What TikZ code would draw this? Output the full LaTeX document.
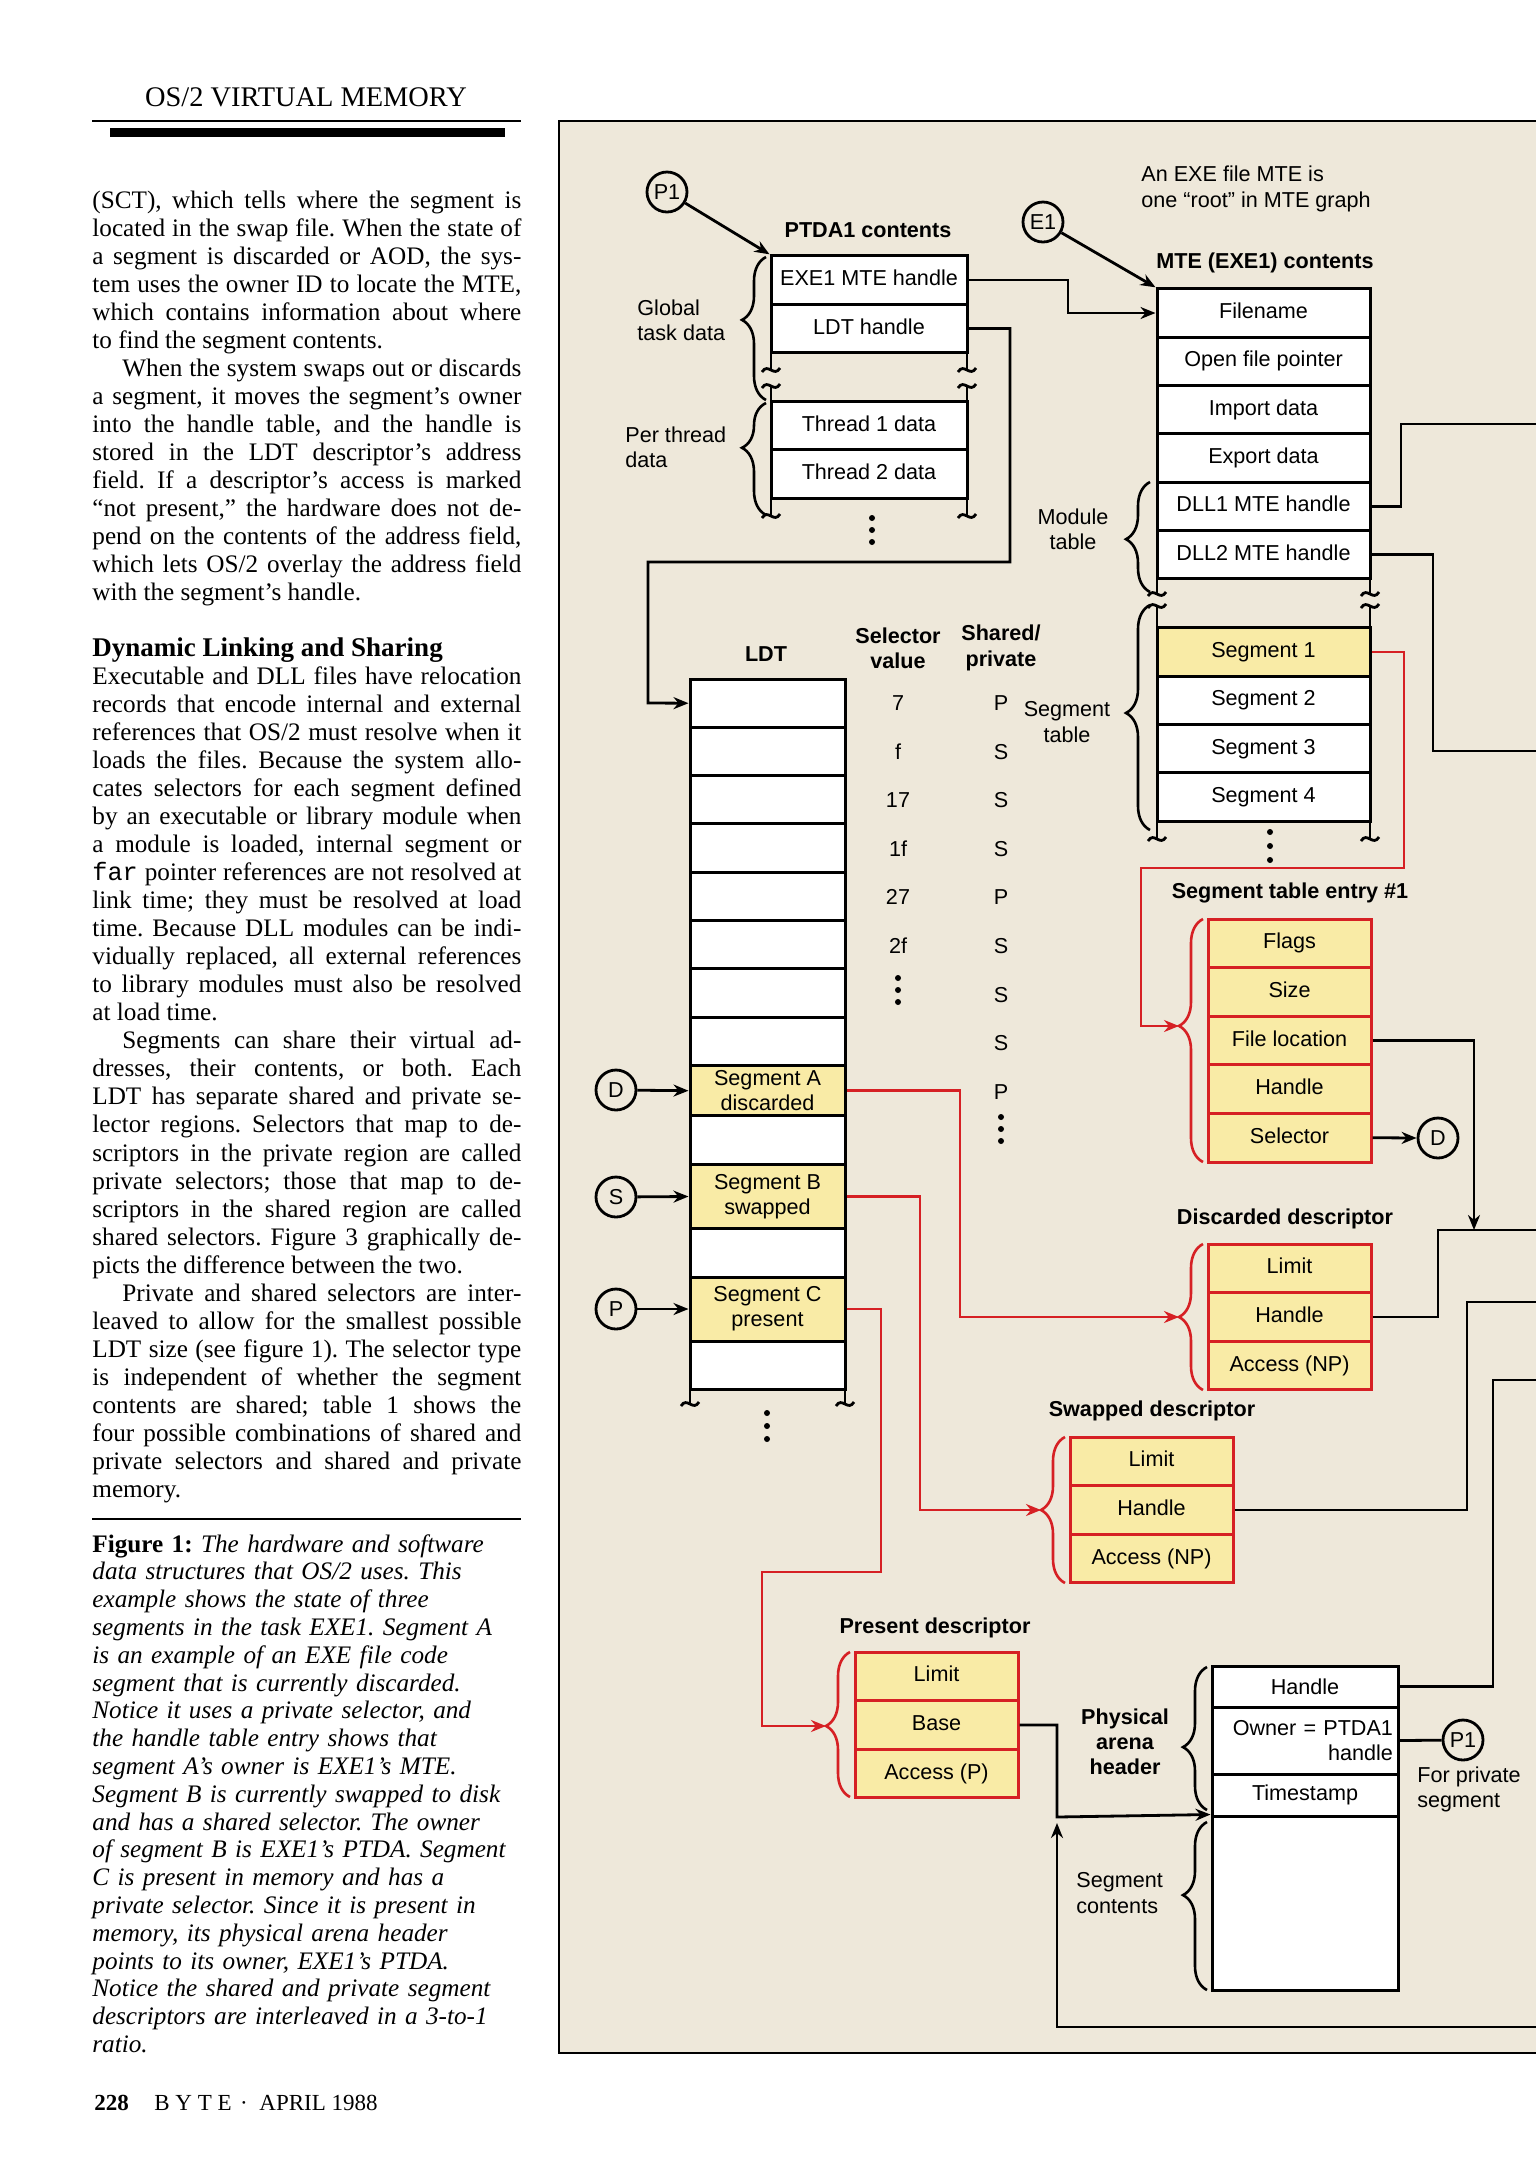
\documentclass[tikz,border=0pt]{standalone}
\usepackage{fontspec}
\setmainfont{Liberation Serif}
\setsansfont{Liberation Sans}
\setmonofont{Liberation Mono}
\usetikzlibrary{arrows.meta,positioning,calc,decorations.pathreplacing}

\definecolor{paper}{RGB}{238,232,218}
\definecolor{cellyel}{RGB}{249,235,166}
\definecolor{redline}{RGB}{214,32,36}

\newcommand{\dfont}{\sffamily\fontsize{10.8}{12.6}\selectfont}
\newcommand{\dfontb}{\sffamily\bfseries\fontsize{10.8}{12.6}\selectfont}
\newcommand{\bodyfont}{\rmfamily\fontsize{12.6}{14.03}\selectfont\frenchspacing
  \spaceskip=.25em plus .6em minus .15em\relax
  \tolerance=10000\hyphenpenalty=10000\exhyphenpenalty=10000\relax}
\newcommand{\capfont}{\rmfamily\itshape\fontsize{12.6}{13.9}\selectfont\frenchspacing}
\newcommand{\jl}[1]{{\parfillskip=0pt\relax\noindent#1\par}}
\newcommand{\ls}[1]{\noindent #1\par}
\newcommand{\ind}{\hspace*{15pt}}
% small wavy cut on a table side
\newcommand{\cutmark}[2]{\draw[wire] ({#1-9},{#2+2}) .. controls ({#1-3},{#2-8}) and ({#1+3},{#2+8}) .. ({#1+9},{#2-2});}

\begin{document}
\begin{tikzpicture}[x=0.5pt,y=-0.5pt,>={Stealth[length=7.5pt,width=6pt]},
  wire/.style={line width=1.4pt},
  rwire/.style={line width=1.4pt,draw=redline},
  cellbase/.style={draw,line width=1.5pt,fill=white,font=\dfont,inner sep=0pt,minimum height=24.2pt,align=center},
  cell/.style={cellbase,text height=7.8pt,text depth=2.2pt},
  ptdacell/.style={cell,minimum width=98pt},
  mtecell/.style={cell,minimum width=106.5pt},
  ldtcell/.style={cellbase,minimum width=77.5pt},
  desccell/.style={cell,draw=redline,fill=cellyel,minimum width=81.5pt,minimum height=24.3pt},
  arenacell/.style={cellbase,minimum width=93pt},
  tag/.style={draw,circle,line width=1.4pt,minimum size=20pt,inner sep=0pt,font=\dfont},
  lbl/.style={font=\dfont,inner sep=0pt,align=center},
  llbl/.style={font=\dfont,inner sep=0pt,align=left},
  boldlbl/.style={font=\dfontb,inner sep=0pt,align=center},
  cbrace/.style={decorate,decoration={brace,amplitude=12pt,aspect=#1},line width=1.3pt},
  rbrace/.style={cbrace=#1,draw=redline},
  column/.style={anchor=base west,inner sep=0pt,text width=214.5pt,align=justify,font=\bodyfont},
]
  \useasboundingbox (0,0) rectangle (1536,2160);
  \fill[white] (0,0) rectangle (1536,2160);

  % page text column
  \node[anchor=base,inner sep=0pt,font=\rmfamily\fontsize{14.2}{16}\selectfont] (runhead) at (306,106) {OS/2 VIRTUAL MEMORY};
  \draw[line width=0.8pt] (92,121) -- (521,121);
  \fill (110,128) rectangle (505,137);
  \node[column] (colA) at (92,208) {%
    \jl{(SCT), which tells where the segment is}
    \jl{located in the swap file. When the state of}
    \jl{a segment is discarded or AOD, the sys-}
    \jl{tem uses the owner ID to locate the MTE,}
    \jl{which contains information about where}
    \ls{to find the segment contents.}
    \jl{\ind When the system swaps out or discards}
    \jl{a segment, it moves the segment's owner}
    \jl{into the handle table, and the handle is}
    \jl{stored in the LDT descriptor's address}
    \jl{field. If a descriptor's access is marked}
    \jl{``not present,'' the hardware does not de-}
    \jl{pend on the contents of the address field,}
    \jl{which lets OS/2 overlay the address field}
    \ls{with the segment's handle.}};
  \node[anchor=base west,inner sep=0pt,font=\rmfamily\bfseries\fontsize{13.5}{16}\selectfont] (dynhead) at (92,656) {Dynamic Linking and Sharing};
  \node[column] (colB) at (92,684) {%
    \jl{Executable and DLL files have relocation}
    \jl{records that encode internal and external}
    \jl{references that OS/2 must resolve when it}
    \jl{loads the files. Because the system allo-}
    \jl{cates selectors for each segment defined}
    \jl{by an executable or library module when}
    \jl{a module is loaded, internal segment or}
    \jl{\texttt{far} pointer references are not resolved at}
    \jl{link time; they must be resolved at load}
    \jl{time. Because DLL modules can be indi-}
    \jl{vidually replaced, all external references}
    \jl{to library modules must also be resolved}
    \ls{at load time.}
    \jl{\ind Segments can share their virtual ad-}
    \jl{dresses, their contents, or both. Each}
    \jl{LDT has separate shared and private se-}
    \jl{lector regions. Selectors that map to de-}
    \jl{scriptors in the private region are called}
    \jl{private selectors; those that map to de-}
    \jl{scriptors in the shared region are called}
    \jl{shared selectors. Figure 3 graphically de-}
    \ls{picts the difference between the two.}
    \jl{\ind Private and shared selectors are inter-}
    \jl{leaved to allow for the smallest possible}
    \jl{LDT size (see figure 1). The selector type}
    \jl{is independent of whether the segment}
    \jl{contents are shared; table 1 shows the}
    \jl{four possible combinations of shared and}
    \jl{private selectors and shared and private}
    \ls{memory.}};
  \draw[line width=0.8pt] (92,1519) -- (521,1519);
  \node[anchor=base west,inner sep=0pt,text width=215pt,font=\capfont] (caption) at (92,1552) {%
    \ls{{\upshape\bfseries Figure 1:} The hardware and software}
    \ls{data structures that OS/2 uses. This}
    \ls{example shows the state of three}
    \ls{segments in the task EXE1. Segment A}
    \ls{is an example of an EXE file code}
    \ls{segment that is currently discarded.}
    \ls{Notice it uses a private selector, and}
    \ls{the handle table entry shows that}
    \ls{segment A's owner is EXE1's MTE.}
    \ls{Segment B is currently swapped to disk}
    \ls{and has a shared selector. The owner}
    \ls{of segment B is EXE1's PTDA. Segment}
    \ls{C is present in memory and has a}
    \ls{private selector. Since it is present in}
    \ls{memory, its physical arena header}
    \ls{points to its owner, EXE1's PTDA.}
    \ls{Notice the shared and private segment}
    \ls{descriptors are interleaved in a 3-to-1}
    \ls{ratio.}};
  \node[anchor=base west,inner sep=0pt,font=\rmfamily\bfseries\fontsize{11.5}{13}\selectfont] (pageno) at (94,2110) {228};
  \node[anchor=base west,inner sep=0pt,font=\rmfamily\fontsize{11.5}{13}\selectfont] (mag) at (154,2110) {B Y T E};
  \node[anchor=base,inner sep=0pt,font=\rmfamily\fontsize{11.5}{13}\selectfont] (sep) at (244,2110) {·};
  \node[anchor=base west,inner sep=0pt,font=\rmfamily\fontsize{11.5}{13}\selectfont] (issue) at (259,2110) {APRIL 1988};

  % figure frame
  \fill[paper] (559,121) rectangle (1536,2053);
  \draw[line width=1.2pt] (1536,121) -- (559,121) -- (559,2053) -- (1536,2053);

  % PTDA
  \node[tag] (p1) at (667,192) {P1};
  \node[boldlbl] (ptdahd) at (868,230) {PTDA1 contents};
  \node[ptdacell] (exe1) at (869,280) {EXE1 MTE handle};
  \node[ptdacell] (ldth) at (869,328.5) {LDT handle};
  \node[ptdacell] (thr1) at (869,426) {Thread 1 data};
  \node[ptdacell] (thr2) at (869,474) {Thread 2 data};
  \foreach \x in {771,967} {
    \draw[wire] (\x,353) -- (\x,370);
    \draw[wire] (\x,386) -- (\x,402);
    \draw[wire] (\x,498) -- (\x,516);
    \cutmark{\x}{370} \cutmark{\x}{386} \cutmark{\x}{516}
  }
  \foreach \y in {518,530,542} \fill (872,\y) circle[radius=1.5pt];
  \draw[cbrace=0.56] (766,400) -- (766,257);
  \draw[cbrace=0.6] (766,515) -- (766,403);
  \node[llbl,anchor=west] (glob) at (637,320) {Global\\task data};
  \node[llbl,anchor=west] (perth) at (625,447) {Per thread\\data};

  % MTE
  \node[tag] (e1) at (1043,222) {E1};
  \node[llbl,anchor=west] (root) at (1141,189) {An EXE file MTE is\\one “root” in MTE graph};
  \node[boldlbl] (mtehd) at (1265,263) {MTE (EXE1) contents};
  \foreach \t [count=\i] in {Filename,Open file pointer,Import data,Export data,DLL1 MTE handle,DLL2 MTE handle}
    \node[mtecell] (mte\i) at (1263.5,{313+48.3*(\i-1)}) {\t};
  \node[mtecell,fill=cellyel] (seg1) at (1263.5,652) {Segment 1};
  \foreach \i in {2,3,4}
    \node[mtecell] (seg\i) at (1263.5,{652+48.3*(\i-1)}) {Segment \i};
  \foreach \x in {1157,1370} {
    \draw[wire] (\x,579) -- (\x,594);
    \draw[wire] (\x,606) -- (\x,628);
    \draw[wire] (\x,821) -- (\x,839);
    \cutmark{\x}{594} \cutmark{\x}{606} \cutmark{\x}{839}
  }
  \foreach \y in {832,846,860} \fill (1270,\y) circle[radius=1.5pt];
  \draw[cbrace=0.48] (1150,592) -- (1150,482);
  \draw[cbrace=0.52] (1150,830) -- (1150,605);
  \node[lbl] (modtab) at (1073,529) {Module\\table};
  \node[lbl] (segtab) at (1067,722) {Segment\\table};

  % LDT
  \node[boldlbl] (ldthd) at (766,654) {LDT};
  \node[boldlbl] (selhd) at (898,648) {Selector\\value};
  \node[boldlbl] (sphd) at (1001,648) {Shared/\\private};
  \foreach \i in {1,...,8}
    \node[ldtcell] (ldt\i) at (767.5,{703.2+48.3*(\i-1)}) {};
  \node[ldtcell,fill=cellyel,minimum height=25.3pt] (segA) at (767.5,1090.7) {Segment A\\discarded};
  \node[ldtcell] (ldt9) at (767.5,1140) {};
  \node[ldtcell,fill=cellyel,minimum height=32.5pt] (segB) at (767.5,1196.5) {Segment B\\swapped};
  \node[ldtcell] (ldt10) at (767.5,1253) {};
  \node[ldtcell,fill=cellyel,minimum height=32pt] (segC) at (767.5,1309) {Segment C\\present};
  \node[ldtcell] (ldt11) at (767.5,1365.5) {};
  \foreach \x in {690,845} {
    \draw[wire] (\x,1390) -- (\x,1404);
    \cutmark{\x}{1404}
  }
  \foreach \y in {1413,1426,1439} \fill (767,\y) circle[radius=1.5pt];
  \foreach \v [count=\i] in {7,f,17,1f,27,2f}
    \node[lbl] (sv\i) at (898,{703+48.5*(\i-1)}) {\v};
  \foreach \y in {978,990,1002} \fill (898,\y) circle[radius=1.5pt];
  \foreach \v [count=\i] in {P,S,S,S,P,S,S,S,P}
    \node[lbl] (sp\i) at (1001,{703+48.6*(\i-1)}) {\v};
  \foreach \y in {1117,1129,1141} \fill (1001,\y) circle[radius=1.5pt];
  \node[tag] (dtag) at (616,1090) {D};
  \node[tag] (stag) at (616,1197) {S};
  \node[tag] (ptag) at (616,1309) {P};
  \draw[wire,->] (dtag) -- (segA.west);
  \draw[wire,->] (stag) -- (segB.west);
  \draw[wire,->] (ptag) -- (segC.west);

  % segment table entry
  \node[boldlbl] (stehd) at (1290,893) {Segment table entry \#1};
  \foreach \t [count=\i] in {Flags,Size,File location,Handle,Selector}
    \node[desccell] (ste\i) at (1289.5,{943.3+48.6*(\i-1)}) {\t};
  \draw[rbrace=0.56] (1203,1162) -- (1203,919);
  \coordinate (steTip) at (1179,1026);
  \node[tag] (dtagb) at (1438,1138) {D};
  \draw[wire,->] (ste5.east) -- (dtagb.west);

  % descriptors
  \node[boldlbl] (dishd) at (1285,1219) {Discarded descriptor};
  \foreach \t [count=\i] in {Limit,Handle,Access (NP)}
    \node[desccell] (dis\i) at (1289.5,{1268.3+48.6*(\i-1)}) {\t};
  \draw[rbrace=0.5] (1203,1390) -- (1203,1244);
  \coordinate (disTip) at (1179,1317);
  \node[boldlbl] (swphd) at (1152,1411) {Swapped descriptor};
  \foreach \t [count=\i] in {Limit,Handle,Access (NP)}
    \node[desccell] (swp\i) at (1151.5,{1461.3+48.6*(\i-1)}) {\t};
  \draw[rbrace=0.5] (1065,1583) -- (1065,1437);
  \coordinate (swpTip) at (1041,1510);
  \node[boldlbl] (prehd) at (935,1628) {Present descriptor};
  \foreach \t [count=\i] in {Limit,Base,Access (P)}
    \node[desccell] (pre\i) at (936.5,{1676.3+48.6*(\i-1)}) {\t};
  \draw[rbrace=0.49] (850,1797) -- (850,1652);
  \coordinate (preTip) at (826,1726);

  % physical arena
  \node[arenacell,minimum height=20.5pt] (ahnd) at (1305,1686.5) {Handle};
  \node[arenacell,minimum height=33.5pt,text width=88pt,align=right] (aown) at (1305,1740.5) {Owner\,\,=\,\,PTDA1\\handle};
  \node[arenacell,minimum height=21pt] (atime) at (1305,1795) {Timestamp};
  \node[arenacell,minimum height=87pt] (acont) at (1305,1903) {};
  \draw[cbrace=0.44] (1207,1810) -- (1207,1667);
  \draw[cbrace=0.565] (1207,1990) -- (1207,1822);
  \node[boldlbl] (arenahd) at (1125,1742) {Physical\\arena\\header};
  \node[llbl,anchor=west] (contlbl) at (1076,1893) {Segment\\contents};
  \node[tag] (p1b) at (1463,1740) {P1};
  \node[llbl,anchor=west] (privlbl) at (1417,1789) {For private\\segment};
  \draw[wire] (aown.east) -- (p1b);

  % connectors
  \draw[wire,->] (p1) -- (exe1.north west);
  \draw[wire,->] (e1) -- (mte1.north west);
  \draw[wire,->] (exe1.east) -| (1068,313) -- (mte1.west);
  \draw[wire,->] (ldth.east) -| (1010,562) -| (648,703) -- (ldt1.west);
  \coordinate (offA) at (1536,424);
  \draw[wire] (mte5.east) -| (1401,424) -- (offA);
  \coordinate (offB) at (1536,751);
  \draw[wire] (mte6.east) -| (1433,751) -- (offB);
  \draw[rwire,->] (seg1.east) -| (1404,868) -| (1141,1026) -- (steTip);
  \coordinate (fDown) at (1474,1230);
  \draw[wire,->] (ste3.east) -| (fDown);
  \coordinate (offC) at (1536,1230);
  \draw[wire] (dis2.east) -| (1438,1230) -- (offC);
  \draw[rwire,->] (segA.east) -| (960,1317) -- (disTip);
  \draw[rwire,->] (segB.east) -| (920,1510) -- (swpTip);
  \coordinate (offD) at (1536,1302);
  \draw[wire] (swp2.east) -| (1467,1302) -- (offD);
  \draw[rwire,->] (segC.east) -| (881,1572) -| (762,1726) -- (preTip);
  \draw[wire,->] (pre2.east) -| (1057,1817) -- (acont.north west);
  \coordinate (offE) at (1536,1380);
  \draw[wire] (ahnd.east) -| (1493,1380) -- (offE);
  \coordinate (offF) at (1536,2027);
  \coordinate (upTip) at (1057,1823);
  \draw[wire,->] (offF) -| (upTip);
\end{tikzpicture}
\end{document}
